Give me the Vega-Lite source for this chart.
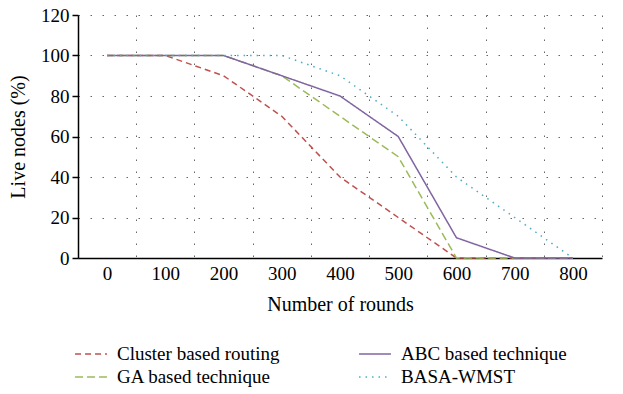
{
  "$schema": "https://vega.github.io/schema/vega-lite/v6.json",
  "width": 524,
  "height": 243,
  "autosize": {"type": "none"},
  "padding": {"left": 78, "top": 15, "right": 21, "bottom": 136},
  "background": "white",
  "config": {
    "font": "Liberation Serif",
    "view": {"stroke": null},
    "axis": {
      "labelFont": "Liberation Serif",
      "titleFont": "Liberation Serif",
      "labelColor": "black",
      "titleColor": "black",
      "titleFontWeight": "normal",
      "labelFontSize": 19,
      "titleFontSize": 20,
      "domainColor": "black",
      "domainWidth": 1.5,
      "tickColor": "black",
      "gridColor": "#666666",
      "gridDash": [1.5, 10.5],
      "gridWidth": 1
    },
    "legend": {
      "labelFont": "Liberation Serif",
      "labelFontSize": 19,
      "labelColor": "black",
      "labelLimit": 400,
      "padding": 0
    }
  },
  "data": {
    "values": [
      {"round": 0, "series": "Cluster based routing", "value": 100},
      {"round": 100, "series": "Cluster based routing", "value": 100},
      {"round": 200, "series": "Cluster based routing", "value": 90},
      {"round": 300, "series": "Cluster based routing", "value": 70},
      {"round": 400, "series": "Cluster based routing", "value": 40},
      {"round": 500, "series": "Cluster based routing", "value": 20},
      {"round": 600, "series": "Cluster based routing", "value": 0},
      {"round": 700, "series": "Cluster based routing", "value": 0},
      {"round": 800, "series": "Cluster based routing", "value": 0},
      {"round": 0, "series": "GA  based technique", "value": 100},
      {"round": 100, "series": "GA  based technique", "value": 100},
      {"round": 200, "series": "GA  based technique", "value": 100},
      {"round": 300, "series": "GA  based technique", "value": 90},
      {"round": 400, "series": "GA  based technique", "value": 70},
      {"round": 500, "series": "GA  based technique", "value": 50},
      {"round": 600, "series": "GA  based technique", "value": 0},
      {"round": 700, "series": "GA  based technique", "value": 0},
      {"round": 800, "series": "GA  based technique", "value": 0},
      {"round": 0, "series": "ABC based technique", "value": 100},
      {"round": 100, "series": "ABC based technique", "value": 100},
      {"round": 200, "series": "ABC based technique", "value": 100},
      {"round": 300, "series": "ABC based technique", "value": 90},
      {"round": 400, "series": "ABC based technique", "value": 80},
      {"round": 500, "series": "ABC based technique", "value": 60},
      {"round": 600, "series": "ABC based technique", "value": 10},
      {"round": 700, "series": "ABC based technique", "value": 0},
      {"round": 800, "series": "ABC based technique", "value": 0},
      {"round": 0, "series": "BASA-WMST", "value": 100},
      {"round": 100, "series": "BASA-WMST", "value": 100},
      {"round": 200, "series": "BASA-WMST", "value": 100},
      {"round": 300, "series": "BASA-WMST", "value": 100},
      {"round": 400, "series": "BASA-WMST", "value": 90},
      {"round": 500, "series": "BASA-WMST", "value": 70},
      {"round": 600, "series": "BASA-WMST", "value": 40},
      {"round": 700, "series": "BASA-WMST", "value": 20},
      {"round": 800, "series": "BASA-WMST", "value": 0}
    ]
  },
  "mark": {"type": "line", "strokeWidth": 1.5},
  "encoding": {
    "x": {
      "field": "round",
      "type": "ordinal",
      "bandPosition": 0.5,
      "scale": {"type": "band", "paddingInner": 0, "paddingOuter": 0},
      "axis": {
        "title": "Number of rounds",
        "labelAngle": 0,
        "tickBand": "extent",
        "ticks": false,
        "labelPadding": 6,
        "titlePadding": 11,
        "grid": true
      }
    },
    "y": {
      "field": "value",
      "type": "quantitative",
      "scale": {"domain": [0, 120], "nice": false},
      "axis": {
        "title": "Live nodes (%)",
        "values": [0, 20, 40, 60, 80, 100, 120],
        "tickSize": 6,
        "tickWidth": 1.5,
        "labelPadding": 3,
        "titlePadding": 12,
        "grid": true
      }
    },
    "color": {
      "field": "series",
      "type": "nominal",
      "scale": {
        "domain": ["Cluster based routing", "GA  based technique", "ABC based technique", "BASA-WMST"],
        "range": ["#C0504D", "#9BBB59", "#8064A2", "#4BACC6"]
      },
      "legend": {
        "title": null,
        "orient": "none",
        "legendX": 0,
        "legendY": 326,
        "columns": 2,
        "columnPadding": 76,
        "rowPadding": 0,
        "symbolType": "M-1.33,0H1.33",
        "symbolSize": 576,
        "symbolStrokeWidth": 1.5,
        "symbolFillColor": "transparent",
        "labelOffset": 13
      }
    },
    "strokeDash": {
      "field": "series",
      "type": "nominal",
      "scale": {
        "domain": ["Cluster based routing", "GA  based technique", "ABC based technique", "BASA-WMST"],
        "range": [[6, 4], [8, 4], [1, 0], [1.5, 5]]
      },
      "legend": {
        "title": null,
        "orient": "none",
        "legendX": 0,
        "legendY": 326,
        "columns": 2,
        "columnPadding": 76,
        "rowPadding": 0,
        "symbolType": "M-1.33,0H1.33",
        "symbolSize": 576,
        "symbolStrokeWidth": 1.5,
        "symbolFillColor": "transparent",
        "labelOffset": 13
      }
    }
  }
}
